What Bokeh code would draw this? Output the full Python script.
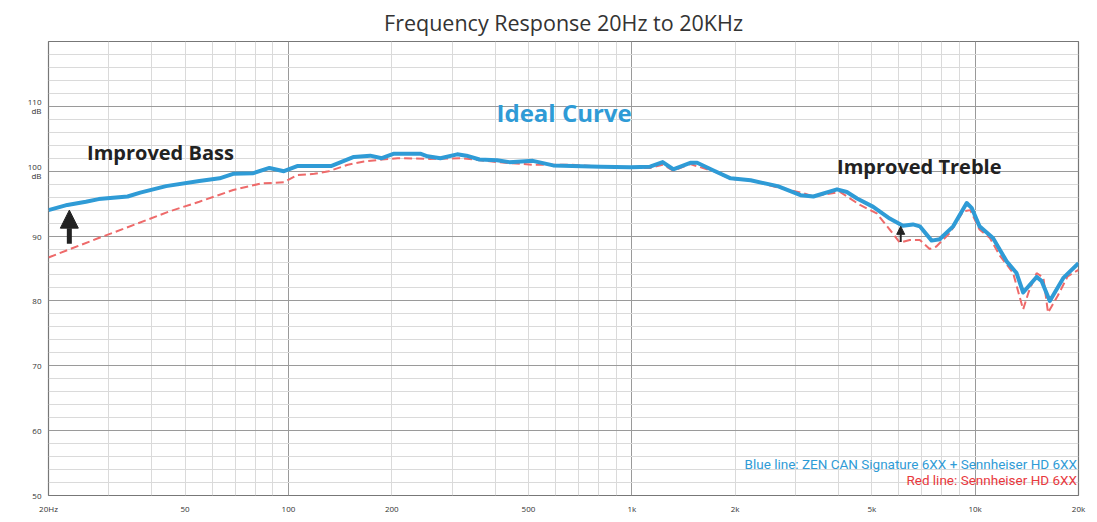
from bokeh.plotting import figure
from bokeh.models import FixedTicker, Label, Arrow, NormalHead
from bokeh.embed import file_html
from bokeh.resources import INLINE

# ---- data ----
blue_freq = [20, 22.7, 25.7, 28, 34, 37, 44, 55, 63, 69, 79, 88, 97, 106, 133, 155, 173, 187,
             203, 242, 254, 277, 310, 330, 360, 405, 440, 515, 590, 810, 990, 1130, 1230, 1320,
             1480, 1550, 1730, 1940, 2218, 2660, 3100, 3380, 3960, 4230, 4530, 5050, 5640, 6160,
             6590, 6900, 7470, 7880, 8630, 9450, 9780, 10300, 11270, 12350, 13200, 13800, 15100,
             15600, 16500, 18100, 20000]
blue_db = [94.0, 94.8, 95.3, 95.7, 96.1, 96.7, 97.7, 98.5, 98.9, 99.6, 99.7, 100.5, 100.0, 100.8,
           100.8, 102.2, 102.4, 102.0, 102.7, 102.7, 102.3, 102.0, 102.6, 102.4, 101.8, 101.7,
           101.4, 101.6, 100.9, 100.7, 100.6, 100.7, 101.4, 100.3, 101.3, 101.3, 100.1, 98.9,
           98.6, 97.7, 96.3, 96.1, 97.2, 96.8, 95.8, 94.5, 92.7, 91.6, 91.8, 91.5, 89.3, 89.5,
           91.5, 95.1, 94.3, 91.5, 89.7, 86.1, 84.3, 81.3, 83.7, 83.1, 80.0, 83.6, 85.8]

red_freq = [20, 28, 33, 45, 55, 69, 83, 97, 106, 119, 131, 149, 166, 187, 208, 258, 322, 405,
            515, 660, 990, 1130, 1230, 1320, 1480, 1730, 1940, 2218, 2660, 3170, 3380, 4040,
            4620, 5170, 5640, 6030, 6450, 6900, 7370, 7710, 8450, 9230, 9680, 10300, 11040,
            11800, 12900, 13500, 13800, 14300, 15100, 15800, 16300, 17400, 18600, 20000]
red_db = [86.7, 89.7, 91.1, 93.8, 95.3, 97.1, 98.1, 98.3, 99.4, 99.6, 100.0, 101.0, 101.5, 101.8,
          102.0, 101.9, 102.0, 101.4, 101.0, 101.0, 100.5, 100.5, 101.0, 100.1, 101.1, 100.0,
          98.8, 98.6, 97.5, 96.6, 96.1, 96.8, 94.8, 93.5, 91.0, 89.0, 89.4, 89.4, 88.0, 88.4,
          90.5, 93.8, 94.0, 91.0, 89.7, 87.0, 84.3, 80.5, 78.7, 81.3, 84.3, 83.6, 78.2, 80.8,
          83.8, 84.8]

x_ticks = [20, 50, 100, 200, 500, 1000, 2000, 5000, 10000, 20000]
x_tick_labels = ["20Hz", "50", "100", "200", "500", "1k", "2k", "5k", "10k", "20k"]
y_ticks = [50, 60, 70, 80, 90, 100, 110]
y_tick_labels = ["50", "60", "70", "80", "90", "100\ndB", "110\ndB"]

x_major_grid = [100, 1000, 10000]
x_minor_grid = [30, 40, 50, 60, 70, 80, 90, 200, 300, 400, 500, 600, 700, 800, 900,
                2000, 3000, 4000, 5000, 6000, 7000, 8000, 9000]
y_major_grid = [60, 70, 80, 90, 100, 110]
y_minor_grid = [v for v in range(52, 120, 2) if v % 10 != 0]

# ---- figure ----
p = figure(width=1090, height=516, x_axis_type="log", x_range=(20, 20000), y_range=(50, 120),
           output_backend="svg", toolbar_location=None,
           min_border_left=48, min_border_right=12, min_border_top=40, min_border_bottom=18)
p.title.text = "Frequency Response 20Hz to 20KHz"
p.title.align = "center"
p.title.text_font = "Open Sans"
p.title.text_font_style = "normal"
p.title.text_font_size = "21.5px"
p.title.text_color = "#333333"
p.title.offset = 0

p.outline_line_color = "#777777"
p.outline_line_width = 1.2
p.background_fill_color = "white"
p.border_fill_color = "white"

# axes
p.xaxis.ticker = FixedTicker(ticks=x_ticks)
p.xaxis.major_label_overrides = {t: l for t, l in zip(x_ticks, x_tick_labels)}
p.yaxis.ticker = FixedTicker(ticks=y_ticks)
p.yaxis.major_label_overrides = {t: l for t, l in zip(y_ticks, y_tick_labels)}
for ax in (p.xaxis, p.yaxis):
    ax.axis_line_color = None
    ax.major_tick_line_color = None
    ax.minor_tick_line_color = None
    ax.major_label_text_font = "Open Sans"
    ax.major_label_text_font_size = "8px"
    ax.major_label_text_color = "#333333"
    ax.major_label_standoff = 1
p.yaxis.major_label_text_line_height = 0.8

# grids
p.xgrid.ticker = FixedTicker(ticks=x_major_grid, minor_ticks=x_minor_grid)
p.ygrid.ticker = FixedTicker(ticks=y_major_grid, minor_ticks=y_minor_grid)
for g in (p.xgrid, p.ygrid):
    g.grid_line_color = "#9a9a9a"
    g.grid_line_width = 1
    g.minor_grid_line_color = "#dadada"
    g.minor_grid_line_width = 1

# lines
p.line(red_freq, red_db, line_color="#ee6a6a", line_width=2, line_dash="8 4")
p.line(blue_freq, blue_db, line_color="#2f9bd6", line_width=4, line_join="round")

# annotations
p.add_layout(Label(x=25.9, y=102.9, text="Improved Bass", text_font="Open Sans",
                   text_font_style="bold", text_font_size="20px", text_color="#222222",
                   text_baseline="middle"))
p.add_layout(Label(x=635, y=109.1, text="Ideal Curve", text_font="Open Sans",
                   text_font_style="bold", text_font_size="24px", text_color="#2f9bd6",
                   text_baseline="middle", text_align="center"))
p.add_layout(Label(x=3960, y=100.7, text="Improved Treble", text_font="Open Sans",
                   text_font_style="bold", text_font_size="20px", text_color="#222222",
                   text_baseline="middle"))
p.add_layout(Label(x=19800, y=54.9, text="Blue line: ZEN CAN Signature 6XX + Sennheiser HD 6XX",
                   text_font="Roboto", text_font_size="13.5px", text_color="#2f9bd6",
                   text_align="right", text_baseline="middle"))
p.add_layout(Label(x=19800, y=52.4, text="Red line: Sennheiser HD 6XX",
                   text_font="Roboto", text_font_size="13.5px", text_color="#e8383d",
                   text_align="right", text_baseline="middle"))

p.add_layout(Arrow(x_start=23.0, y_start=88.8, x_end=23.0, y_end=94.0, line_width=5,
                   line_color="#222222",
                   end=NormalHead(size=18, line_color="#222222", fill_color="#222222")))
p.add_layout(Arrow(x_start=6070, y_start=89.1, x_end=6070, y_end=91.5, line_width=2,
                   line_color="#222222",
                   end=NormalHead(size=8, line_color="#222222", fill_color="#222222")))

open("out.html", "w").write(file_html(p, INLINE))
